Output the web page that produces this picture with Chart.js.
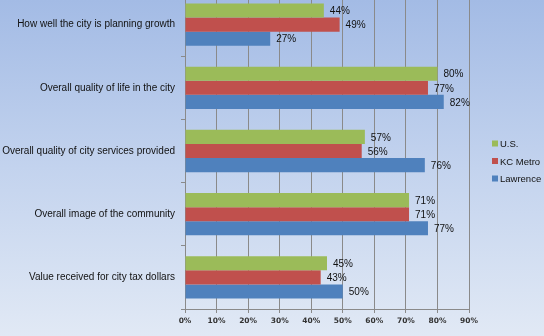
<!DOCTYPE html>
<html>
<head>
<meta charset="utf-8">
<script src="https://cdn.jsdelivr.net/npm/chart.js@4/dist/chart.umd.min.js"></script>
<style>
    html, body { margin: 0; padding: 0; }
    body {
        width: 544px;
        height: 336px;
        overflow: hidden;
        position: relative;
        background: linear-gradient(to bottom, #a3bbe5 0%, #c3d3ee 50%, #e1e9f5 100%);
    }
    #wrap { position: absolute; left: 0; top: -19px; width: 544px; height: 354px; }
</style>
</head>
<body>
<div id="wrap"><canvas id="chart"></canvas></div>
<script>
var categories = [
    'How well the city is planning growth',
    'Overall quality of life in the city',
    'Overall quality of city services provided',
    'Overall image of the community',
    'Value received for city tax dollars'
];
var seriesNames = ['U.S.', 'KC Metro', 'Lawrence'];
var usValues = [44, 80, 57, 71, 45];
var kcValues = [49, 77, 56, 71, 43];
var lawrenceValues = [27, 82, 76, 77, 50];
var xTicks = [0, 10, 20, 30, 40, 50, 60, 70, 80, 90];

var colors = ['#9bbb59', '#c0504d', '#4f81bd'];
var textFont = '"Liberation Sans", Arial, sans-serif';

// draws "44%" etc. right of each bar
var valueLabels = {
    id: 'valueLabels',
    afterDatasetsDraw(chart) {
        var ctx = chart.ctx;
        ctx.save();
        ctx.font = '10px ' + textFont;
        ctx.fillStyle = '#111';
        ctx.textAlign = 'left';
        ctx.textBaseline = 'middle';
        chart.data.datasets.forEach(function (ds, i) {
            var meta = chart.getDatasetMeta(i);
            meta.data.forEach(function (bar, j) {
                ctx.fillText(ds.data[j] + '%', bar.x + 6, bar.y + 1);
            });
        });
        ctx.restore();
    }
};

// legend off to the right, like the excel one
var sideLegend = {
    id: 'sideLegend',
    afterDraw(chart) {
        var ctx = chart.ctx;
        var area = chart.chartArea;
        var x = area.right + 23;
        var midY = (area.top + area.bottom) / 2 + 10;
        ctx.save();
        ctx.font = '9.5px ' + textFont;
        ctx.textAlign = 'left';
        ctx.textBaseline = 'middle';
        chart.data.datasets.forEach(function (ds, i) {
            var y = midY + (i - 1) * 17.5;
            ctx.fillStyle = ds.backgroundColor;
            ctx.fillRect(x, y - 3, 6, 6);
            ctx.fillStyle = '#111';
            ctx.fillText(ds.label, x + 8, y + 1);
        });
        ctx.restore();
    }
};

var chart = new Chart(document.getElementById('chart'), {
    type: 'bar',
    data: {
        labels: categories,
        datasets: [
            { label: seriesNames[0], data: usValues, backgroundColor: colors[0] },
            { label: seriesNames[1], data: kcValues, backgroundColor: colors[1] },
            { label: seriesNames[2], data: lawrenceValues, backgroundColor: colors[2] }
        ]
    },
    options: {
        indexAxis: 'y',
        responsive: true,
        maintainAspectRatio: false,
        animation: false,
        devicePixelRatio: 1,
        categoryPercentage: 0.67,
        barPercentage: 1,
        layout: { padding: { left: 0, right: 75, top: 0, bottom: 0 } },
        scales: {
            x: {
                min: 0,
                max: 90,
                afterBuildTicks: function (scale) {
                    scale.ticks = xTicks.map(function (v) { return { value: v }; });
                },
                afterFit: function (scale) { scale.height = 26; },
                grid: { color: '#8a8a8a', lineWidth: 1, tickLength: 4 },
                border: { color: '#8a8a8a' },
                ticks: {
                    callback: function (v) { return v + '%'; },
                    font: { family: '"DejaVu Sans", Verdana, sans-serif', size: 7.5, weight: 'bold' },
                    color: '#333',
                    padding: 4,
                    maxRotation: 0
                }
            },
            y: {
                afterFit: function (scale) { scale.width = 185; },
                grid: { offset: true, drawOnChartArea: false, color: '#8a8a8a', tickLength: 4 },
                border: { color: '#8a8a8a' },
                ticks: {
                    font: { family: textFont, size: 10 },
                    color: '#111',
                    padding: 6
                }
            }
        },
        plugins: {
            legend: { display: false },
            tooltip: { enabled: false }
        }
    },
    plugins: [valueLabels, sideLegend]
});
</script>
</body>
</html>
